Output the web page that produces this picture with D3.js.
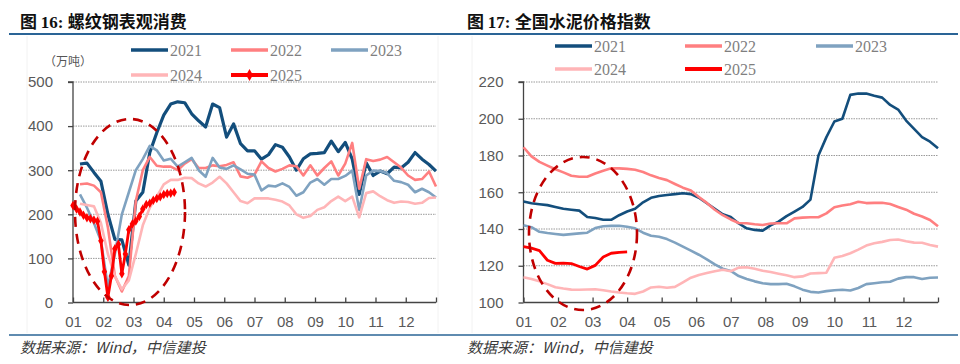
<!DOCTYPE html>
<html><head><meta charset="utf-8">
<script src="https://cdn.jsdelivr.net/npm/d3@7/dist/d3.min.js"></script>
<style>body{margin:0;background:#fff}</style>
</head><body>
<svg id="c" width="960" height="364" xmlns="http://www.w3.org/2000/svg"></svg>
<script>
// ---------- DATA ----------
const monthLabels = ["01","02","03","04","05","06","07","08","09","10","11","12"];
const seriesNames = ["2021","2022","2023","2024","2025"];

// Fig 16: rebar apparent consumption (万吨), weekly, weeks 1..52
const rebar2021 = [314,316,295,275,200,143,142,85,230,250,340,385,425,450,455,453,428,412,398,450,442,375,405,360,344,344,325,335,358,352,330,300,326,337,338,340,366,342,363,325,245,317,288,298,292,307,305,318,340,325,313,298];
const rebar2022 = [268,270,265,250,170,60,25,60,230,300,330,310,308,308,300,315,325,305,305,311,309,312,318,286,283,290,320,305,297,303,311,309,288,311,288,305,320,288,315,362,258,325,321,324,330,318,306,288,278,280,297,263];
const rebar2023 = [245,215,180,140,35,110,200,250,300,325,355,345,322,326,308,318,328,300,285,328,306,303,311,302,292,290,254,265,263,270,262,242,250,272,280,267,280,280,287,299,210,288,299,298,293,276,273,267,250,258,250,238];
const rebar2024 = [224,221,218,180,110,60,30,50,110,175,215,240,268,278,278,283,282,270,263,272,285,270,250,230,225,236,236,236,233,229,220,200,192,196,210,216,230,240,230,240,193,248,252,241,232,226,229,228,224,226,237,238];
// 2025: half-week steps starting at week 0
const rebar2025 = [220,212,205,198,192,190,187,184,140,70,12,60,122,132,65,110,165,178,185,195,212,222,225,232,236,240,245,247,248,250];

// Fig 17: national cement price index, weekly, weeks 0..52
const cement2021 = [155,154,153.5,153,152,151,150.5,150,146.5,146,145,145,147.5,149.5,151,154.5,157,158,158.5,159,159.5,159,157,154,151,148,146.5,143,140.4,139.5,139.1,142,144,147,149.5,152,156,180,190,198.5,200,213,213.7,213.7,212.5,211.5,207.5,205,199,194.5,190,187.5,184];
const cement2022 = [184.5,179.5,176.5,174.5,172.5,170.8,169,168.4,168.4,170.2,171.7,173,173,172.7,172.2,171,169.2,167.8,166.6,164.5,162.5,161,157.4,154.2,150.5,147.5,145.2,143.3,143.1,142.6,142.2,143,143.1,143.1,145.8,146.2,146.4,146.4,148.5,151.8,152.8,153.5,154.8,154.1,154.2,154.3,153.6,152,150.5,148.3,146.8,144.9,141.5];
const cement2023 = [142,141,138.5,137.8,137.3,136.8,137.2,137.6,138,140.5,141.5,141.7,141.8,141.2,140.4,138,136.3,135.8,134.5,132.6,130.4,128.2,126,123.5,120.8,118.4,117.2,114.4,112.8,111.5,110.5,110,110,110.2,108.8,107,105.8,105.4,106.2,106.7,106.9,106.5,107.9,110,110.5,111,111.3,113,113.8,113.8,112.8,113.5,113.6];
const cement2024 = [113.8,112.8,111.5,110,108.3,107.6,107,106.9,107.1,107.2,106.7,106,105.4,105,104.7,106,108.2,108.6,108,108.5,111,113.5,115,116,117,117.8,117,119,119.2,118.4,117.3,116.6,115.7,114.8,113.8,114.2,115.8,116,116.2,124.3,125.3,126.8,128.8,131,132.2,133,134,134.3,133.3,132.6,132.5,131.3,130.4];
const cement2025 = [130.4,129.6,128.2,123,121.3,121.4,121.2,119.6,118.2,120.2,124.8,126.8,127.3,127.5];

const leftTicks = [0,100,200,300,400,500];
const rightTicks = [100,120,140,160,180,200,220];

// ---------- STYLE ----------
const colors = {"2021":"#134e7c","2022":"#ff7f80","2023":"#7fa2c0","2024":"#ffb5b7","2025":"#ff0000"};
const svg = d3.select("#c");
const ruleColor = "#2a6496";
const tickFont = "'Liberation Sans', Arial, sans-serif";
const serif = "'Liberation Serif', 'Times New Roman', serif";
const cjk = "'Noto Sans CJK SC', sans-serif";

// header / footer rules
svg.append("line").attr("x1",9).attr("x2",958).attr("y1",34).attr("y2",34).attr("stroke",ruleColor).attr("stroke-width",2.2);
svg.append("line").attr("x1",9).attr("x2",958).attr("y1",335).attr("y2",335).attr("stroke",ruleColor).attr("stroke-width",1.5);
[27,438,472].forEach(x=>svg.append("line").attr("x1",x).attr("x2",x).attr("y1",36).attr("y2",333).attr("stroke","#f2f2f2").attr("stroke-width",1));

function title(x, num, txt){
  const t = svg.append("text").attr("x",x).attr("y",28).attr("font-size",17).attr("font-weight","bold").attr("fill","#111");
  t.append("tspan").attr("font-family",cjk).text("图 ");
  t.append("tspan").attr("font-family",serif).text(num+": ");
  t.append("tspan").attr("font-family",cjk).text(txt);
}
title(20,"16","螺纹钢表观消费");
title(467,"17","全国水泥价格指数");

function footer(x){
  svg.append("text").attr("x",x).attr("y",353).attr("font-size",15).attr("font-style","italic")
    .attr("font-family",cjk).attr("fill","#3a3a3a").text("数据来源：Wind，中信建投");
}
footer(20); footer(467);

function panel(cfg){
  const g = svg.append("g");
  const x = d3.scaleLinear().domain([0,12]).range([cfg.x0,cfg.x1]);
  const y = d3.scaleLinear().domain(cfg.ydom).range([302.5,82]);
  // grid
  g.selectAll(".grid").data(cfg.ticks.slice(1)).join("line")
    .attr("x1",cfg.x0).attr("x2",cfg.x1).attr("y1",d=>y(d)).attr("y2",d=>y(d))
    .attr("stroke","#9a9a9a").attr("stroke-width",1).attr("stroke-dasharray","1.5,1");
  // y axis
  const ya = g.append("g").attr("transform",`translate(${cfg.x0},0)`)
    .call(d3.axisLeft(y).tickValues(cfg.ticks).tickSize(5).tickPadding(15).tickFormat(d3.format("d")));
  ya.select(".domain").attr("stroke","#444").attr("stroke-width",1.3).attr("d",`M-5,${y(cfg.ydom[1])}H0V${y(cfg.ydom[0])}`);
  ya.selectAll(".tick line").attr("stroke","#444").attr("stroke-width",1.3);
  ya.selectAll(".tick text").attr("font-family",tickFont).attr("font-size",15).attr("fill","#595959");
  // x axis
  const xa = g.append("g").attr("transform","translate(0,302.5)")
    .call(d3.axisBottom(x).tickValues(d3.range(0,13)).tickSize(-5).tickPadding(14).tickFormat(d=>d<12?monthLabels[d]:""));
  xa.select(".domain").attr("stroke","#444").attr("stroke-width",1.3).attr("d",`M${cfg.x0},0H${cfg.x1}`);
  xa.selectAll(".tick line").attr("stroke","#444").attr("stroke-width",1.3);
  xa.selectAll(".tick text").attr("font-family",tickFont).attr("font-size",15).attr("fill","#595959");
  // lines
  const line = d3.line().x(d=>x(d[0])).y(d=>y(d[1]));
  cfg.series.forEach(s=>{
    const pts = s.values.map((v,i)=>[(s.start + i*s.step)*12/52, v]);
    g.append("path").datum(pts).attr("d",line).attr("fill","none")
      .attr("stroke",colors[s.name]).attr("stroke-width",s.width).attr("stroke-linejoin","round");
    if(s.markers){
      g.selectAll(null).data(pts).join("path")
        .attr("transform",d=>`translate(${x(d[0])},${y(d[1])})`)
        .attr("d",d3.symbol(d3.symbolDiamond,26)).attr("fill",colors[s.name]);
    }
  });
  // dashed ellipse
  g.append("ellipse").attr("cx",cfg.ell[0]).attr("cy",cfg.ell[1]).attr("rx",cfg.ell[2]).attr("ry",cfg.ell[3])
    .attr("fill","none").attr("stroke","#c00000").attr("stroke-width",2.6).attr("stroke-dasharray","10,7");
  // legend
  cfg.legend.forEach(l=>{
    g.append("line").attr("x1",l.x).attr("x2",l.x+37).attr("y1",l.y).attr("y2",l.y)
      .attr("stroke",colors[l.name]).attr("stroke-width",l.name==="2025"?4:3.5);
    if(l.marker){
      g.append("path").attr("transform",`translate(${l.x+18.5},${l.y})`).attr("d",d3.symbol(d3.symbolDiamond,40)).attr("fill",colors[l.name]);
    }
    g.append("text").attr("x",l.x+39).attr("y",l.y+5.5).attr("font-family",serif).attr("font-size",16)
      .attr("fill","#7f7f7f").text(l.name);
  });
}

panel({
  x0:73, x1:436, ydom:[0,500], ticks:leftTicks,
  series:[
    {name:"2021",values:rebar2021,start:1,step:1,width:3.2},
    {name:"2022",values:rebar2022,start:1,step:1,width:2.6},
    {name:"2023",values:rebar2023,start:1,step:1,width:2.6},
    {name:"2024",values:rebar2024,start:1,step:1,width:2.6},
    {name:"2025",values:rebar2025,start:0,step:0.5,width:2.8,markers:true}
  ],
  ell:[130,212,55,93],
  legend:[
    {name:"2021",x:131,y:50},{name:"2022",x:231,y:50},{name:"2023",x:331,y:50},
    {name:"2024",x:131,y:75},{name:"2025",x:231,y:75,marker:true}
  ]
});
svg.append("text").attr("x",44).attr("y",66).attr("font-family",cjk).attr("font-size",12).attr("fill","#555").text("（万吨）");

panel({
  x0:523.5, x1:938, ydom:[100,220], ticks:rightTicks,
  series:[
    {name:"2021",values:cement2021,start:0,step:1,width:2.6},
    {name:"2022",values:cement2022,start:0,step:1,width:2.6},
    {name:"2023",values:cement2023,start:0,step:1,width:2.6},
    {name:"2024",values:cement2024,start:0,step:1,width:2.6},
    {name:"2025",values:cement2025,start:0,step:1,width:2.8}
  ],
  ell:[583,233.5,54,76.5],
  legend:[
    {name:"2021",x:555,y:46},{name:"2022",x:685,y:46},{name:"2023",x:816,y:46},
    {name:"2024",x:555,y:69},{name:"2025",x:685,y:69}
  ]
});
</script>
</body></html>
